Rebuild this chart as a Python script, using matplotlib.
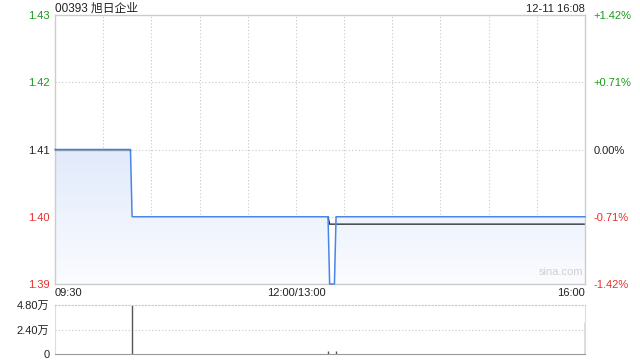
import matplotlib
matplotlib.use('Agg')
import matplotlib.pyplot as plt
import numpy as np

plt.rcParams['font.family'] = ['Liberation Sans', 'Noto Sans CJK SC', 'DejaVu Sans']

# minutes since 09:30 (lunch break removed, 12:00/13:00 at 150, 16:00 at 330)
price_minutes = [0, 47, 48, 170, 171, 174, 175, 330]
price = [1.41, 1.41, 1.40, 1.40, 1.39, 1.39, 1.40, 1.40]
avg_minutes = [0, 47, 48, 170, 171, 330]
avg_price = [1.41, 1.41, 1.4001, 1.40, 1.3989, 1.3989]
vol_minutes = [48, 170, 175, 330]
volume = [52000, 2500, 3000, 31000]

prev_close = 1.41
y_ticks = [1.39, 1.40, 1.41, 1.42, 1.43]
pct_labels = ['-1.42%', '-0.71%', '0.00%', '+0.71%', '+1.42%']
x_ticks = [0, 150, 330]
x_labels = ['09:30', '12:00/13:00', '16:00']
vol_ticks = [0, 24000, 48000]
vol_labels = ['0', '2.40万', '4.80万']

green = '#1a9a1a'
red = '#e8302a'
blue = '#4a86e8'
grid_kw = dict(color='#c8c8c8', linestyle=(0, (1, 2)), linewidth=0.8)


def tick_color(v):
    if v > prev_close + 1e-9:
        return green
    if v < prev_close - 1e-9:
        return red
    return '#222222'


fig = plt.figure(figsize=(6.4, 3.6), dpi=100)
ax = fig.add_axes([55 / 640, 1 - 284 / 360, 530 / 640, 269 / 360])
ax.set_xlim(0, 330)
ax.set_ylim(1.39, 1.43)

# gradient fill under the price line, strongest at the highest price
grad = np.linspace(0, 1, 256).reshape(-1, 1)
cmap = matplotlib.colors.LinearSegmentedColormap.from_list('g', ['#fbfcff', '#e1eafb'])
img = ax.imshow(grad, aspect='auto', cmap=cmap, extent=[0, 330, 1.39, max(price)],
                origin='lower', zorder=1)
poly = ax.fill_between(price_minutes, price, 1.39, color='none')
img.set_clip_path(poly.get_paths()[0], transform=ax.transData)
ax.set_ylim(1.39, 1.43)

for x in range(30, 330, 30):
    ax.axvline(x, zorder=0.5, **grid_kw)
for y in [1.40, 1.41, 1.42]:
    ax.axhline(y, zorder=0.5, **grid_kw)

ax.plot(price_minutes, price, color=blue, linewidth=1.1, zorder=3, clip_on=False)
# average line shows through the price line only while they coincide at the open
ax.plot(avg_minutes[:2], avg_price[:2], color='#333333', linewidth=1.0, zorder=4, alpha=0.35)
ax.plot(avg_minutes[3:], avg_price[3:], color='#333333', linewidth=1.0, zorder=2)

for s in ax.spines.values():
    s.set_color('#cccccc')
    s.set_linewidth(1)

ax.set_yticks(y_ticks)
ax.set_yticklabels([f'{v:.2f}' for v in y_ticks], fontsize=8)
for lab, v in zip(ax.get_yticklabels(), y_ticks):
    lab.set_color(tick_color(v))
ax.tick_params(axis='y', length=0, pad=4)

ax.set_xticks(x_ticks)
ax.set_xticklabels(x_labels, fontsize=8, color='#222222')
for lab, ha in zip(ax.get_xticklabels(), ['left', 'center', 'right']):
    lab.set_horizontalalignment(ha)
ax.tick_params(axis='x', length=0, pad=3)

ax2 = ax.twinx()
ax2.set_ylim(ax.get_ylim())
ax2.set_yticks(y_ticks)
ax2.set_yticklabels(pct_labels, fontsize=8)
for lab, v in zip(ax2.get_yticklabels(), y_ticks):
    lab.set_color(tick_color(v))
ax2.tick_params(axis='y', length=0, pad=6)
for s in ax2.spines.values():
    s.set_visible(False)

ax.text(0, 1.0 + 3 / 269, '00393 旭日企业', transform=ax.transAxes, fontsize=8.5,
        color='#222222', ha='left', va='baseline')
ax.text(1, 1.0 + 3 / 269, '12-11 16:08', transform=ax.transAxes, fontsize=8,
        color='#222222', ha='right', va='baseline')
ax.text(0.955, 0.025, 'sina.com', transform=ax.transAxes, fontsize=8,
        color='#d0d0d0', ha='center', va='bottom')

# volume panel
vax = fig.add_axes([55 / 640, 1 - 354 / 360, 530 / 640, 49 / 360])
vax.set_xlim(0, 330)
vax.set_ylim(0, 48000)
vax.vlines(vol_minutes, 0, volume, color='#555555', linewidth=1.0, clip_on=True)
vax.axhline(24000, zorder=0, **grid_kw)
vax.set_xticks([])
vax.set_yticks(vol_ticks)
vax.set_yticklabels(vol_labels, fontsize=8, color='#222222')
vax.tick_params(axis='y', length=0, pad=4)
for side in ['left', 'right']:
    vax.spines[side].set_color('#dddddd')
vax.spines['top'].set_color('#c8c8c8')
vax.spines['top'].set_linestyle((0, (1, 2)))
vax.spines['bottom'].set_color('#999999')
vax.spines['bottom'].set_linestyle((0, (2, 1)))

fig.savefig('out.png', dpi=100)
